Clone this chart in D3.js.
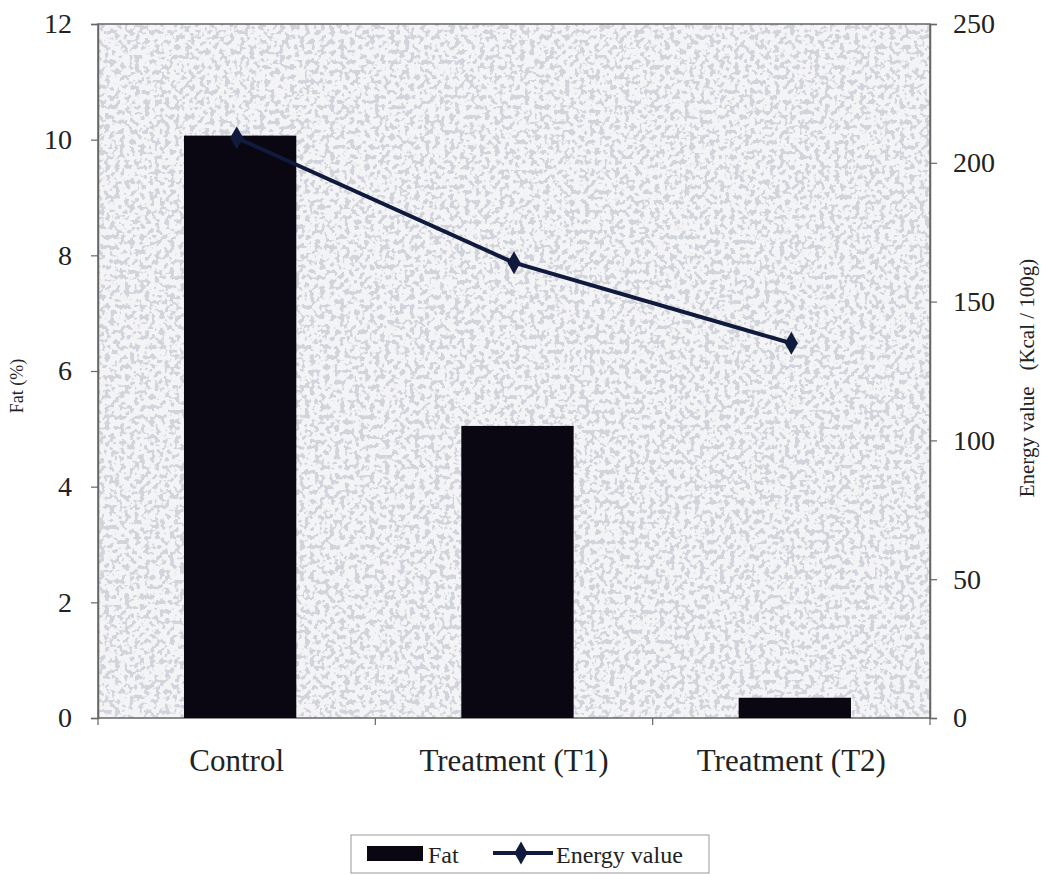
<!DOCTYPE html>
<html><head><meta charset="utf-8">
<script src="https://cdn.jsdelivr.net/npm/d3@7"></script>
<style>body{margin:0;background:#fff;} svg{display:block;font-family:"Liberation Serif","Times New Roman",serif;}</style>
</head><body>
<svg id="c" width="1049" height="875"></svg>
<script>
const categories = ["Control", "Treatment (T1)", "Treatment (T2)"];
const fatValues = [10.07, 5.05, 0.35];
const energyValues = [209, 164, 135];
const fatTicks = [0, 2, 4, 6, 8, 10, 12];
const energyTicks = [0, 50, 100, 150, 200, 250];

const svg = d3.select("#c");
const m = {left: 98, top: 24, right: 930, bottom: 718};

const defs = svg.append("defs");
const f = defs.append("filter").attr("id","speck").attr("x",0).attr("y",0).attr("width","100%").attr("height","100%");
f.append("feTurbulence").attr("type","fractalNoise").attr("baseFrequency","0.2").attr("numOctaves",2).attr("seed",7).attr("result","n");
f.append("feColorMatrix").attr("in","n").attr("type","matrix")
  .attr("values","0 0 0 0 0.64  0 0 0 0 0.66  0 0 0 0 0.71  0 0 0 -12 5.9").attr("result","g");
f.append("feFlood").attr("flood-color","#f4f4f6").attr("result","w");
f.append("feComposite").attr("in","g").attr("in2","w").attr("operator","over");

const xb = d3.scaleBand().domain(categories).range([m.left, m.right]);
const yL = d3.scaleLinear().domain([0, 12]).range([m.bottom, m.top]);
const yR = d3.scaleLinear().domain([0, 250]).range([m.bottom, m.top]);

// plot background
svg.append("rect").attr("x", m.left).attr("y", m.top).attr("width", m.right - m.left).attr("height", m.bottom - m.top)
  .attr("filter","url(#speck)");
svg.append("rect").attr("x", m.left).attr("y", m.top).attr("width", m.right - m.left).attr("height", m.bottom - m.top)
  .attr("fill","none").attr("stroke","#666").attr("stroke-width",1.5);

// bars
svg.selectAll("rect.bar").data(categories).enter().append("rect").attr("class","bar")
  .attr("x", d => xb(d) + xb.bandwidth()*0.31)
  .attr("width", xb.bandwidth()*0.405)
  .attr("y", (d,i) => yL(fatValues[i]))
  .attr("height", (d,i) => yL(0) - yL(fatValues[i]))
  .attr("fill", "#0b0712");

// axes
const axL = d3.axisLeft(yL).tickValues(fatTicks).tickSize(7).tickPadding(19);
const gL = svg.append("g").attr("transform", `translate(${m.left},0)`).call(axL);
const axR = d3.axisRight(yR).tickValues(energyTicks).tickSize(7).tickPadding(16);
const gR = svg.append("g").attr("transform", `translate(${m.right},0)`).call(axR);
const axB = d3.axisBottom(xb).tickSize(0).tickPadding(31);
const gB = svg.append("g").attr("transform", `translate(0,${m.bottom})`).call(axB);
// category boundary ticks
svg.selectAll("line.ct").data(d3.range(categories.length + 1)).enter().append("line")
  .attr("x1", i => m.left + i * xb.step()).attr("x2", i => m.left + i * xb.step())
  .attr("y1", m.bottom).attr("y2", m.bottom + 7).attr("stroke", "#666").attr("stroke-width", 1.2);
[gL, gR, gB].forEach(g => {
  g.select(".domain").attr("stroke","#666").attr("stroke-width",1.5);
  g.selectAll(".tick line").attr("stroke","#666").attr("stroke-width",1.2);
  g.selectAll("text").attr("font-family","'Liberation Serif','Times New Roman',serif").attr("font-size",28).attr("fill","#222");
});
gB.selectAll("text").attr("font-size",31);
gB.select(".domain").remove();

// line
const pts = categories.map((c,i) => [xb(c) + xb.bandwidth()/2, yR(energyValues[i])]);
svg.append("path").attr("d", d3.line()(pts)).attr("fill","none").attr("stroke","#101a3c").attr("stroke-width",4);
svg.selectAll("path.mk").data(pts).enter().append("path").attr("class","mk")
  .attr("d", d3.symbol().type(d3.symbolDiamond).size(150))
  .attr("transform", d => `translate(${d[0]},${d[1]})`).attr("fill","#101a3c");

// axis titles
svg.append("text").attr("transform","translate(23,386) rotate(-90)").attr("text-anchor","middle")
  .attr("font-size",18).attr("fill","#222").text("Fat (%)");
svg.append("text").attr("transform","translate(1034,378) rotate(-90)").attr("text-anchor","middle")
  .attr("font-size",21).attr("fill","#222").attr("xml:space","preserve").text("Energy value   (Kcal / 100g)");

// legend
const lg = svg.append("g");
lg.append("rect").attr("x",351).attr("y",835).attr("width",358).attr("height",38).attr("fill","#fff").attr("stroke","#999").attr("stroke-width",1);
lg.append("rect").attr("x",367).attr("y",846).attr("width",56).attr("height",15).attr("fill","#0b0712");
lg.append("text").attr("x",428).attr("y",863).attr("font-size",24).attr("fill","#222").text("Fat");
lg.append("line").attr("x1",493).attr("x2",553).attr("y1",853).attr("y2",853).attr("stroke","#101a3c").attr("stroke-width",4);
lg.append("path").attr("d", d3.symbol().type(d3.symbolDiamond).size(150)).attr("transform","translate(521,853)").attr("fill","#101a3c");
lg.append("text").attr("x",556).attr("y",863).attr("font-size",24).attr("fill","#222").text("Energy value");
</script>
</body></html>
